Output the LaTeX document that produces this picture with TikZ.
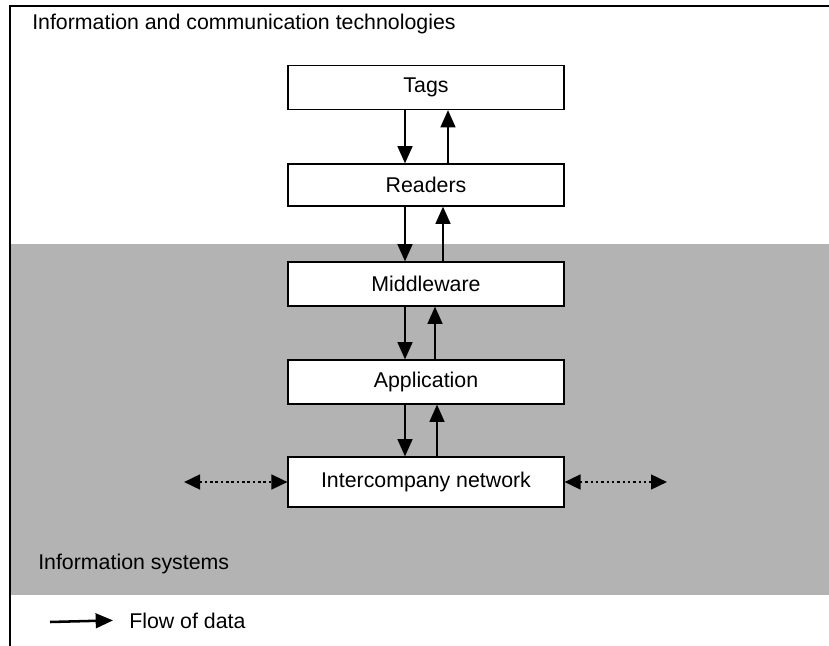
\documentclass[tikz,border=0pt]{standalone}
\usepackage{fontspec}
\setmainfont{Liberation Sans}
\usetikzlibrary{calc,positioning,arrows.meta}
\definecolor{isgray}{RGB}{179,179,179}

\begin{document}
\begin{tikzpicture}[x=0.75pt, y=-0.75pt,
  every node/.style={font=\fontsize{16}{19}\selectfont},
  lbl/.style={inner sep=0pt},
  layer/.style={draw, line width=0.8pt, fill=white, minimum width=207pt, inner sep=0pt},
  flow/.style={line width=1.9pt, -{Triangle[width=11pt, length=13pt]}},
  link/.style={line width=1.9pt, dash pattern=on 1.9pt off 2.1pt, {Triangle[width=11pt, length=12pt]}-{Triangle[width=11pt, length=12pt]}}]
\useasboundingbox (0,0) rectangle (829,646);
% layers
\fill[isgray] (11,244) rectangle (829,595);
\draw[line width=1.5pt] (829,6) -- (10,6) -- (10,646);
\node[lbl, anchor=base west] (ict) at (32,29) {Information and communication technologies};
\node[lbl, anchor=base west] (is) at (38,569) {Information systems};
% boxes
\node[layer, minimum height=33pt] (tags) at (426,87.5) {Tags};
\node[layer, minimum height=31.5pt] (readers) at (426,185) {Readers};
\node[layer, minimum height=33pt] (middleware) at (426,284) {Middleware};
\node[layer, minimum height=33pt] (application) at (426,382) {Application};
\node[layer, minimum height=37.5pt] (network) at (426,482) {Intercompany network};
% data flow
\draw[flow] ($(tags.south)+(-21,0)$) -- ($(readers.north)+(-21,0)$);
\draw[flow] ($(readers.north)+(22,0)$) -- ($(tags.south)+(22,0)$);
\draw[flow] ($(readers.south)+(-21,0)$) -- ($(middleware.north)+(-21,0)$);
\draw[flow] ($(middleware.north)+(17,0)$) -- ($(readers.south)+(17,0)$);
\draw[flow] ($(middleware.south)+(-21,0)$) -- ($(application.north)+(-21,0)$);
\draw[flow] ($(application.north)+(9,0)$) -- ($(middleware.south)+(9,0)$);
\draw[flow] ($(application.south)+(-21,0)$) -- ($(network.north)+(-21,0)$);
\draw[flow] ($(network.north)+(11,0)$) -- ($(application.south)+(11,0)$);
% other companies
\coordinate (leftco) at (184,482);
\coordinate (rightco) at (667,482);
\draw[link] (leftco) -- (network.west);
\draw[link] (network.east) -- (rightco);
% legend
\coordinate (legstart) at (50,622);
\node[lbl, anchor=base west] (legend) at (129,628) {Flow of data};
\draw[flow] (legstart) -- ($(legend.west)+(-16,0)$);
\end{tikzpicture}
\end{document}
